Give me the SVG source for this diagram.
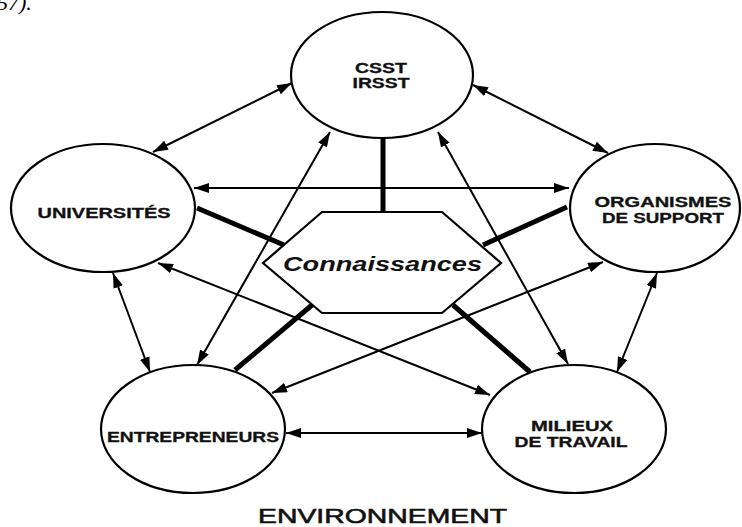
<svg xmlns="http://www.w3.org/2000/svg" width="742" height="527" viewBox="0 0 742 527">
<defs>
<marker id="ah" markerUnits="userSpaceOnUse" markerWidth="16" markerHeight="11" refX="15" refY="5" orient="auto-start-reverse">
<path d="M0,0 L15,5 L0,10 z" fill="#000"/>
</marker>
<style>
.node ellipse, .node polygon { fill: #fff; stroke: #000; stroke-width: 2.2; }
.lbl { font-family: "Liberation Sans", Arial, sans-serif; font-weight: bold; font-size: 14px; fill: #111; text-anchor: middle; stroke: #111; stroke-width: 0.3; }
.thin { stroke: #000; stroke-width: 2; fill: none; marker-start: url(#ah); marker-end: url(#ah); }
.thick { stroke: #000; stroke-width: 5; fill: none; }
</style>
</defs>
<rect width="742" height="527" fill="#fff"/>
<text x="-3" y="10" font-family="Liberation Serif, serif" font-style="italic" font-size="22" fill="#000">57).</text>
<g id="connectors">
<line class="thick" x1="383" y1="137" x2="383" y2="212"/>
<line class="thick" x1="197" y1="208" x2="284" y2="245"/>
<line class="thick" x1="567" y1="207" x2="483" y2="245"/>
<line class="thick" x1="312" y1="305" x2="235" y2="370"/>
<line class="thick" x1="453" y1="305" x2="530" y2="372"/>
<line class="thin" x1="153" y1="152" x2="292" y2="83"/>
<line class="thin" x1="473" y1="85" x2="608" y2="153"/>
<line class="thin" x1="194" y1="188" x2="569" y2="188"/>
<line class="thin" x1="113" y1="273" x2="150" y2="372"/>
<line class="thin" x1="657" y1="273" x2="617" y2="372"/>
<line class="thin" x1="286" y1="433" x2="482" y2="433"/>
<line class="thin" x1="330" y1="132" x2="197" y2="365"/>
<line class="thin" x1="438" y1="132" x2="568" y2="364"/>
<line class="thin" x1="158" y1="263" x2="490" y2="395"/>
<line class="thin" x1="603" y1="262" x2="272" y2="393"/>
</g>
<g id="node-csst" class="node">
<ellipse cx="382" cy="75" rx="91" ry="63"/>
<text class="lbl" x="381" y="73" font-size="13" textLength="52" lengthAdjust="spacingAndGlyphs">CSST</text>
<text class="lbl" x="381" y="88" font-size="13" textLength="57" lengthAdjust="spacingAndGlyphs">IRSST</text>
</g>
<g id="node-universites" class="node">
<ellipse cx="103" cy="208" rx="92" ry="64"/>
<text class="lbl" x="104" y="218" font-size="16" textLength="133" lengthAdjust="spacingAndGlyphs">UNIVERSITÉS</text>
</g>
<g id="node-organismes" class="node">
<ellipse cx="655" cy="208" rx="85" ry="64"/>
<text class="lbl" x="663" y="207" font-size="13.5" textLength="137" lengthAdjust="spacingAndGlyphs">ORGANISMES</text>
<text class="lbl" x="663" y="223" font-size="13.5" textLength="122" lengthAdjust="spacingAndGlyphs">DE SUPPORT</text>
</g>
<g id="node-entrepreneurs" class="node">
<ellipse cx="193" cy="429" rx="92" ry="64"/>
<text class="lbl" x="193" y="442" font-size="16" textLength="172" lengthAdjust="spacingAndGlyphs">ENTREPRENEURS</text>
</g>
<g id="node-milieux" class="node">
<ellipse cx="574" cy="429" rx="92" ry="64"/>
<text class="lbl" x="572" y="431" font-size="13" textLength="82" lengthAdjust="spacingAndGlyphs">MILIEUX</text>
<text class="lbl" x="571" y="447" font-size="13" textLength="113" lengthAdjust="spacingAndGlyphs">DE TRAVAIL</text>
</g>
<g id="node-connaissances" class="node">
<polygon points="322,212 442,212 501,263 442,313 322,313 263,263"/>
<text x="382.5" y="271" font-family="Liberation Sans, Arial, sans-serif" font-weight="bold" font-style="italic" font-size="20.5" text-anchor="middle" fill="#111" textLength="199" lengthAdjust="spacingAndGlyphs">Connaissances</text>
</g>
<text x="382.5" y="523" font-family="Liberation Sans, Arial, sans-serif" font-size="21" text-anchor="middle" fill="#111" stroke="#111" stroke-width="0.6" textLength="249" lengthAdjust="spacingAndGlyphs">ENVIRONNEMENT</text>
</svg>
